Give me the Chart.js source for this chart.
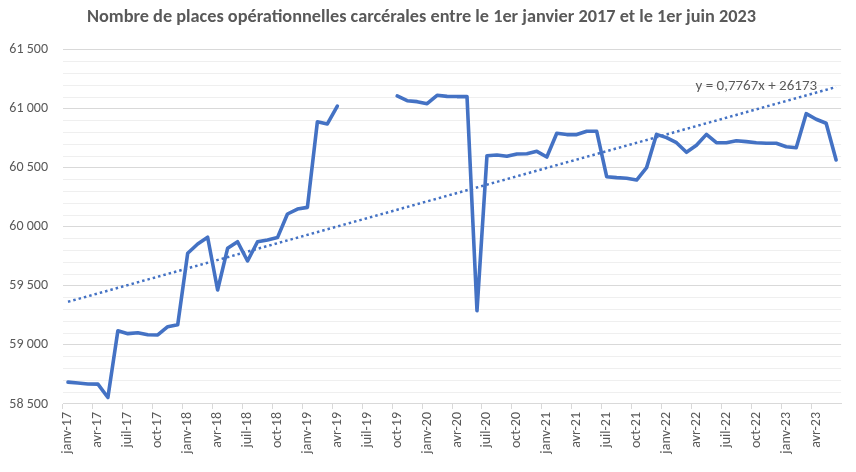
<!DOCTYPE html>
<html>
<head>
<meta charset="utf-8">
<script src="https://cdn.jsdelivr.net/npm/chart.js@4.4.1/dist/chart.umd.min.js"></script>
<style>
  html, body { margin: 0; padding: 0; background: #ffffff; }
  #wrap { width: 856px; height: 472px; position: relative; }
</style>
</head>
<body>
<div id="wrap"><canvas id="c" width="856" height="472"></canvas></div>
<script>
const years = ['17', '18', '19', '20', '21', '22', '23'];
const months = ['janv', 'févr', 'mars', 'avr', 'mai', 'juin', 'juil', 'août', 'sept', 'oct', 'nov', 'déc'];
const lastMonthCount = 6; // 2023 runs janv..juin

const places = [
  58685, 58678, 58670, 58668, 58555, 59120, 59096, 59104, 59087, 59085, 59155, 59172,
  59777, 59856, 59913, 59466, 59819, 59875, 59712, 59875, 59890, 59910, 60110, 60152,
  60166, 60892, 60873, 61025, null, null, null, null, null, 61110, 61070, 61062,
  61045, 61116, 61107, 61105, 61105, 59290, 60604, 60610, 60599, 60619, 60621, 60641,
  60593, 60794, 60783, 60783, 60811, 60811, 60426, 60418, 60413, 60398, 60503, 60785,
  60757, 60714, 60633, 60692, 60785, 60714, 60714, 60731, 60723, 60714, 60709, 60709,
  60680, 60672, 60960, 60913, 60879, 60568
];

const trendEnds = [59366, 61186];
const trendLabel = 'y = 0,7767x + 26173';
const titleText = 'Nombre de places opérationnelles carcérales entre le 1er janvier 2017 et le 1er juin 2023';
const yTicksShown = [58500, 59000, 59500, 60000, 60500, 61000, 61500];

const labels = [];
years.forEach((y, yi) => {
  const n = yi === years.length - 1 ? lastMonthCount : 12;
  for (let m = 0; m < n; m++) labels.push(months[m] + '-' + y);
});

const FONT = "Calibri, Carlito, Lato, 'Liberation Sans', sans-serif";
const GREY = '#595959';
const BLUE = '#4472C4';

const fmt = v => String(v).replace(/\B(?=(\d{3})+(?!\d))/g, ' ');

const trendLabelPlugin = {
  id: 'trendLabel',
  afterDatasetsDraw(chart) {
    const { ctx, scales } = chart;
    const x = scales.x.getPixelForValue(69);
    const y = scales.y.getPixelForValue(61190);
    ctx.save();
    ctx.font = '15px ' + FONT;
    ctx.fillStyle = GREY;
    ctx.textAlign = 'center';
    ctx.textBaseline = 'middle';
    ctx.fillText(trendLabel, x, y);
    ctx.restore();
  }
};

new Chart(document.getElementById('c'), {
  type: 'line',
  data: {
    labels: labels,
    datasets: [
      {
        data: places,
        borderColor: BLUE,
        borderWidth: 3.6,
        pointRadius: 0,
        tension: 0,
        spanGaps: false,
        borderJoinStyle: 'round',
        borderCapStyle: 'round',
        order: 1
      },
      {
        data: [
          { x: labels[0], y: trendEnds[0] },
          { x: labels[labels.length - 1], y: trendEnds[1] }
        ],
        borderColor: BLUE,
        borderWidth: 2.5,
        borderDash: [2.5, 3],
        pointRadius: 0,
        tension: 0,
        spanGaps: true,
        order: 2
      }
    ]
  },
  options: {
    responsive: false,
    animation: false,
    devicePixelRatio: 1,
    layout: { padding: { left: 0, right: 13, top: 0, bottom: 0 } },
    plugins: {
      legend: { display: false },
      tooltip: { enabled: false },
      title: {
        display: true,
        text: titleText,
        color: GREY,
        font: { family: FONT, size: 18.3, weight: 'bold', lineHeight: 1.2 },
        padding: { top: 6, bottom: 22 }
      }
    },
    scales: {
      x: {
        type: 'category',
        offset: true,
        afterFit(scale) { scale.height = 68; },
        border: { display: true, color: '#d9d9d9', width: 1 },
        grid: {
          offset: true,
          drawOnChartArea: false,
          drawTicks: true,
          tickLength: 5,
          color: ctx => (ctx.index % 3 === 0 ? '#d9d9d9' : 'rgba(0,0,0,0)')
        },
        ticks: {
          autoSkip: false,
          maxRotation: 90,
          minRotation: 90,
          padding: 3,
          color: GREY,
          font: { family: FONT, size: 14 },
          callback: function (val, idx) {
            return idx % 3 === 0 ? labels[idx] : '';
          }
        }
      },
      y: {
        min: 58500,
        max: 61500,
        afterFit(scale) { scale.width = 63; },
        border: { display: false },
        grid: {
          drawTicks: false,
          color: ctx => (ctx.tick && ctx.tick.value % 500 === 0 ? '#d9d9d9' : '#efefef'),
          lineWidth: 1
        },
        ticks: {
          stepSize: 100,
          autoSkip: false,
          padding: 15,
          color: GREY,
          font: { family: FONT, size: 14 },
          callback: v => (yTicksShown.includes(v) ? fmt(v) : '')
        }
      }
    }
  },
  plugins: [trendLabelPlugin]
});
</script>
</body>
</html>
